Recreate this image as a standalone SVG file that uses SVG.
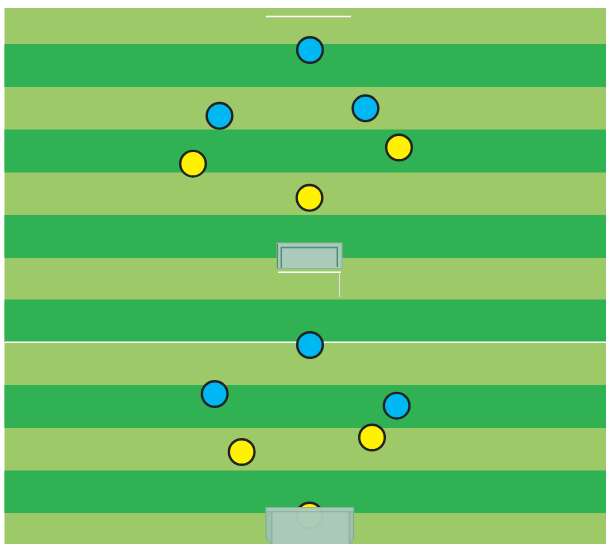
<svg xmlns="http://www.w3.org/2000/svg" width="606" height="544" viewBox="0 0 606 544">
<style>
.light{fill:#9ec968}
.dark{fill:#30b254}
.p{stroke:#222;stroke-width:2.4}
.blue{fill:#00b8f1}
.yellow{fill:#fff200}
.goal{fill:#abcabc;stroke:#8db3a3;stroke-width:1}
.side{fill:#9fc0b1;stroke:#7fa898;stroke-width:1}
.gline{fill:none;stroke:#4f8f72;stroke-width:1.5}
.wline{stroke:#fff;stroke-width:1.5}
</style>
<rect x="0" y="0" width="606" height="544" fill="#fff"/>
<g id="pitch">
<rect class="light" x="4.5" y="8" width="601.5" height="536"/>
<rect class="dark" x="4.5" y="44" width="601.5" height="43"/>
<rect class="dark" x="4.5" y="129.5" width="601.5" height="43"/>
<rect class="dark" x="4.5" y="215" width="601.5" height="43"/>
<rect class="dark" x="4.5" y="299.5" width="601.5" height="42.5"/>
<rect class="dark" x="4.5" y="385" width="601.5" height="43"/>
<rect class="dark" x="4.5" y="470.5" width="601.5" height="42.5"/>
<line class="wline" x1="266" y1="16.5" x2="351" y2="16.5"/>
<line class="wline" x1="4.5" y1="342.3" x2="606" y2="342.3" stroke-width="1.3"/>
<line class="wline" x1="278" y1="272.3" x2="341" y2="272.3"/>
<line x1="339.5" y1="272" x2="339.5" y2="297" stroke="#dde" stroke-width="1"/>
</g>
<g id="goal-mid">
<rect class="goal" x="277" y="243" width="65" height="25.5"/>
<line x1="277.5" y1="244" x2="277.5" y2="268" stroke="#5a8a74" stroke-width="1.2"/>
<polyline class="gline" points="281.3,268 281.3,247.5 337.3,247.5 337.3,267"/>
</g>
<g id="players">
<circle id="b1" class="p blue" cx="310" cy="50" r="12.8"/>
<circle id="b2" class="p blue" cx="219.5" cy="115.8" r="12.8"/>
<circle id="b3" class="p blue" cx="365.5" cy="108.3" r="12.8"/>
<circle id="y1" class="p yellow" cx="193" cy="163.7" r="12.8"/>
<circle id="y2" class="p yellow" cx="399" cy="147.5" r="12.8"/>
<circle id="y3" class="p yellow" cx="309.5" cy="197.8" r="12.8"/>
<circle id="b4" class="p blue" cx="310" cy="345" r="12.8"/>
<circle id="b5" class="p blue" cx="214.7" cy="394" r="12.8"/>
<circle id="b6" class="p blue" cx="396.7" cy="405.7" r="12.8"/>
<circle id="y4" class="p yellow" cx="241.7" cy="452" r="12.8"/>
<circle id="y5" class="p yellow" cx="372" cy="437.5" r="12.8"/>
<circle id="y6" class="p yellow" cx="309.5" cy="515.5" r="12.8"/>
</g>
<g id="goal-bottom" opacity="0.97">
<polygon class="side" points="266,508 272,511.7 272,544 266,539"/>
<polygon class="side" points="353.5,508 349,511.7 349,544 353.5,539"/>
<rect class="goal" x="266" y="507.5" width="87.5" height="4.2" stroke="none"/>
<rect class="goal" x="272" y="511.7" width="77" height="33"/>
</g>
</svg>
